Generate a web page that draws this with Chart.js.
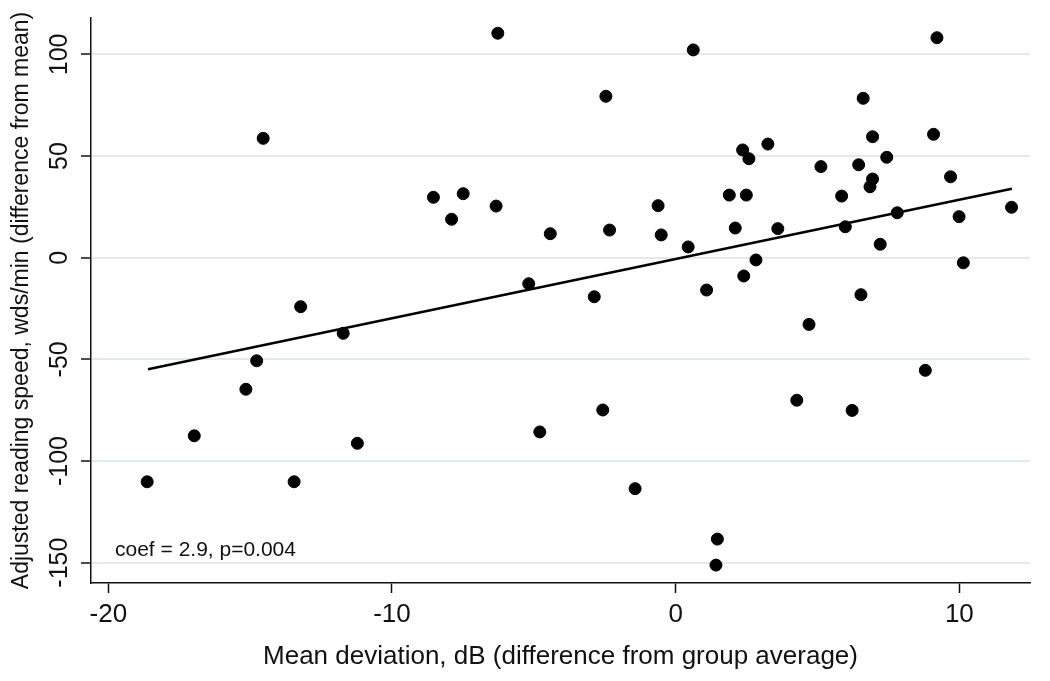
<!DOCTYPE html>
<html>
<head>
<meta charset="utf-8">
<script src="https://cdn.jsdelivr.net/npm/chart.js@4"></script>
<style>
  html, body { margin: 0; padding: 0; background: #fff; }
  #wrap { width: 1050px; height: 681px; }
</style>
</head>
<body>
<div id="wrap"><canvas id="scatterChart" width="1050" height="681"></canvas></div>
<script>
// mean deviation (dB, diff from group average)
const meanDev = [
  -18.63, -16.97, -15.15, -14.77, -14.54, -13.22, -13.45, -11.72, -11.22, -8.54,
  -7.90, -7.49, -6.27, -6.33, -5.18, -4.79, -4.42, -2.46, -2.33, -2.87,
  -2.57, -1.43, -0.62, -0.51, 0.62, 0.44, 1.09, 1.47, 1.42, 1.89,
  2.10, 2.36, 2.40, 2.49, 2.58, 2.83, 3.25, 3.60, 4.27, 4.70,
  5.12, 5.85, 5.98, 6.22, 6.45, 6.53, 6.61, 6.85, 6.94, 6.94,
  7.21, 7.44, 7.81, 8.80, 9.09, 9.21, 9.69, 9.99, 10.14, 11.84
];
// adjusted reading speed (wds/min, diff from mean)
const readingSpeed = [
  -110.2, -87.6, -64.7, -50.7, 58.7, -24.1, -110.2, -37.2, -91.3, 29.7,
  18.9, 31.5, 110.4, 25.4, -12.8, -85.7, 11.8, 79.4, 13.6, -19.2,
  -74.9, -113.6, 25.6, 11.2, 102.2, 5.3, -15.9, -138.4, -151.2, 30.8,
  14.6, 53.0, -9.0, 30.8, 48.7, -1.1, 55.9, 14.3, -70.1, -32.8,
  44.8, 30.3, 15.2, -75.1, 45.7, -18.2, 78.4, 34.9, 38.7, 59.5,
  6.6, 49.4, 22.1, -55.4, 60.7, 108.2, 39.8, 20.2, -2.5, 24.8
];
// fitted line endpoints
const fitX = [-18.6, 11.85];
const fitY = [-54.9, 33.9];

const xTicks = [-20, -10, 0, 10];
const yTicks = [-150, -100, -50, 0, 50, 100];
const xRange = [-20.61, 12.49];
const yRange = [-160, 117.9];

const annotation = 'coef = 2.9, p=0.004';
const xTitle = 'Mean deviation, dB (difference from group average)';
const yTitle = 'Adjusted reading speed, wds/min (difference from mean)';

const FONT = '"Liberation Sans", Arial, sans-serif';
const INK = '#111';

// y labels are drawn rotated, Stata style
const rotatedYLabels = {
  id: 'rotatedYLabels',
  afterDraw(chart) {
    const { ctx, chartArea } = chart;
    const y = chart.scales.y;
    ctx.save();
    ctx.fillStyle = INK;
    ctx.font = '25px ' + FONT;
    ctx.textAlign = 'center';
    ctx.textBaseline = 'middle';
    yTicks.forEach((v) => {
      ctx.save();
      ctx.translate(chartArea.left - 31, y.getPixelForValue(v));
      ctx.rotate(-Math.PI / 2);
      ctx.fillText(String(v), 0, 0);
      ctx.restore();
    });
    ctx.font = '21px ' + FONT;
    ctx.textAlign = 'left';
    ctx.fillText(annotation, chartArea.left + 24, chartArea.bottom - 33);
    ctx.restore();
  }
};

const ctx = document.getElementById('scatterChart');
const chart = new Chart(ctx, {
  type: 'scatter',
  data: {
    datasets: [
      {
        label: 'observed',
        data: meanDev.map((x, i) => ({ x: x, y: readingSpeed[i] })),
        backgroundColor: '#000',
        borderColor: '#000',
        pointRadius: 6,
        pointHoverRadius: 6,
        order: 2
      },
      {
        label: 'fit',
        type: 'line',
        data: fitX.map((x, i) => ({ x: x, y: fitY[i] })),
        borderColor: '#000',
        borderWidth: 2.5,
        pointRadius: 0,
        fill: false,
        order: 1
      }
    ]
  },
  options: {
    responsive: false,
    animation: false,
    layout: { padding: { top: 18, right: 20, left: 0, bottom: 0 } },
    plugins: {
      legend: { display: false },
      tooltip: { enabled: false }
    },
    scales: {
      x: {
        type: 'linear',
        min: xRange[0],
        max: xRange[1],
        afterBuildTicks: (scale) => { scale.ticks = xTicks.map((v) => ({ value: v })); },
        afterFit: (scale) => { scale.height = 98; },
        border: { color: INK, width: 1.5 },
        grid: { drawOnChartArea: false, tickColor: INK, tickLength: 10, tickWidth: 1.5 },
        ticks: { color: INK, font: { family: FONT, size: 26 }, padding: 6, maxRotation: 0 },
        title: {
          display: true,
          text: xTitle,
          color: INK,
          font: { family: FONT, size: 26 },
          padding: { top: 0, bottom: 9 }
        }
      },
      y: {
        type: 'linear',
        min: yRange[0],
        max: yRange[1],
        afterBuildTicks: (scale) => { scale.ticks = yTicks.map((v) => ({ value: v })); },
        afterFit: (scale) => { scale.width = 91; },
        border: { color: INK, width: 1.5 },
        grid: { color: '#e2ebeb', lineWidth: 2, tickColor: INK, tickLength: 10, tickWidth: 1.5 },
        ticks: { display: false },
        title: {
          display: true,
          text: yTitle,
          color: INK,
          font: { family: FONT, size: 23 },
          padding: { top: 8, bottom: 0 }
        }
      }
    }
  },
  plugins: [rotatedYLabels]
});
</script>
</body>
</html>
